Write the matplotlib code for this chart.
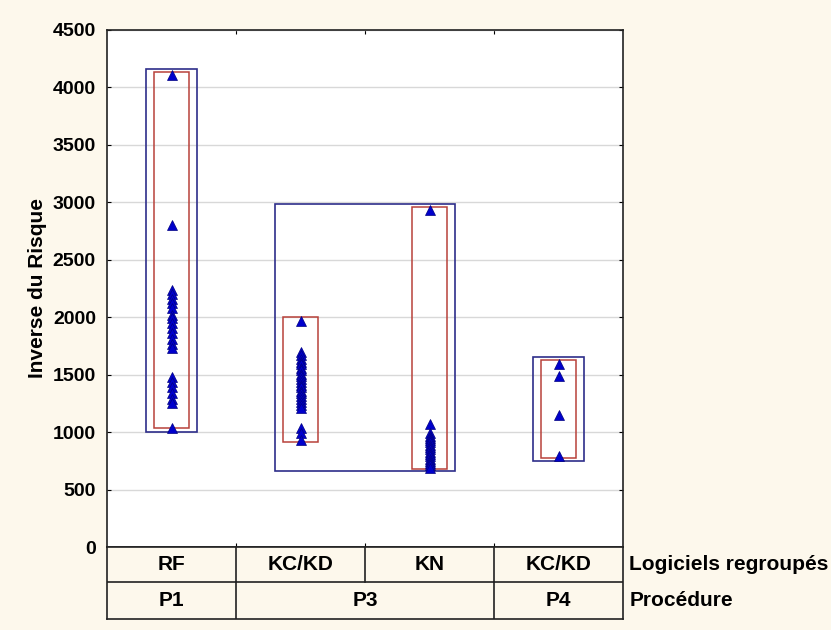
"""
Inverse du risque par logiciel regroupé et procédure (range plot).
"""
import matplotlib
matplotlib.use('Agg')
import matplotlib.pyplot as plt
from matplotlib.patches import Rectangle

plt.rcParams.update({
    'font.family': ['Liberation Sans', 'DejaVu Sans'],
    'font.size': 14,
    'font.weight': 'bold',
})

# categories (x order) and their groups
logiciels = ['RF', 'KC/KD', 'KN', 'KC/KD']
procedures = ['P1', 'P3', 'P4']
proc_span = [(0, 0), (1, 2), (3, 3)]      # first/last software column of each procedure

# points per software column
pts_rf = [4110, 2800, 2240, 2200, 2160, 2120, 2080, 2020, 1990, 1950, 1910,
          1860, 1810, 1770, 1730, 1480, 1440, 1390, 1340, 1290, 1250, 1040]
pts_kckd_p3 = [1970, 1700, 1670, 1640, 1610, 1590, 1560, 1540, 1510, 1490,
               1460, 1440, 1410, 1390, 1360, 1340, 1310, 1290, 1260, 1240,
               1210, 1040, 990, 930]
pts_kn = [2930, 1070, 990, 970, 950, 930, 910, 890, 870, 850, 830, 810, 790,
          770, 750, 730, 710, 690]
pts_kckd_p4 = [1590, 1490, 1150, 790]
points = [pts_rf, pts_kckd_p3, pts_kn, pts_kckd_p4]

# range boxes
soft_lo = [1033, 917, 682, 772]
soft_hi = [4137, 2004, 2962, 1628]
proc_lo = [1004, 661, 751]
proc_hi = [4160, 2985, 1651]

yticks = list(range(0, 4501, 500))

BG = '#FDF8EC'
BLUE_BOX = '#2E2E8A'
RED_BOX = '#B8413A'
MARK = '#0000CC'
FS = 14

fig = plt.figure(figsize=(8.31, 6.30), dpi=100, facecolor=BG)
ax = fig.add_axes([107 / 831, 1 - 547 / 630, 516 / 831, 517 / 630])
ax.set_facecolor('white')

ax.set_xlim(-0.5, 3.5)
ax.set_ylim(0, 4500)
ax.set_yticks(yticks)
ax.set_xticks([0.5, 1.5, 2.5])
ax.tick_params(axis='y', direction='in', length=3, left=True, right=True,
               labelsize=FS, pad=8)
ax.tick_params(axis='x', direction='in', length=3, top=True, bottom=True,
               labelbottom=False)
for lab in ax.get_yticklabels():
    lab.set_fontweight('bold')
ax.grid(axis='y', color='#D8D8D8', linewidth=1)
ax.set_axisbelow(True)
for s in ax.spines.values():
    s.set_linewidth(1.2)
    s.set_color('#222222')

ax.set_ylabel('Inverse du Risque', fontsize=FS + 1, fontweight='bold', labelpad=4)

# procedure boxes (blue)
for (a, b), lo, hi in zip(proc_span, proc_lo, proc_hi):
    ax.add_patch(Rectangle((a - 0.2, lo), (b - a) + 0.4, hi - lo, fill=False,
                           edgecolor=BLUE_BOX, linewidth=1.2, zorder=3))

# software boxes (red) and points
for i, (pts, lo, hi) in enumerate(zip(points, soft_lo, soft_hi)):
    ax.add_patch(Rectangle((i - 0.135, lo), 0.27, hi - lo, fill=False,
                           edgecolor=RED_BOX, linewidth=1.1, zorder=3))
    ax.plot([i] * len(pts), pts, linestyle='none', marker='^', markersize=6.5,
            color=MARK, markeredgecolor='#000080', markeredgewidth=0.5, zorder=4)

# category table below the plot
tab = fig.add_axes([107 / 831, 1 - 619 / 630, 516 / 831, 72 / 630])
tab.set_xlim(-0.5, 3.5)
tab.set_ylim(0, 2)
tab.set_facecolor(BG)
tab.set_xticks([])
tab.set_yticks([])
for s in tab.spines.values():
    s.set_linewidth(1.2)
    s.set_color('#222222')
tab.axhline(1.03, color='#222222', linewidth=1.2)
for x in [0.5, 1.5, 2.5]:
    tab.plot([x, x], [1.03, 2], color='#222222', linewidth=1.2)
for (a, b) in proc_span[1:]:
    tab.plot([a - 0.5, a - 0.5], [0, 1.03], color='#222222', linewidth=1.2)

for i, name in enumerate(logiciels):
    tab.text(i, 1.5, name, ha='center', va='center', fontsize=FS + 1,
             fontweight='bold')
for (a, b), name in zip(proc_span, procedures):
    tab.text((a + b) / 2, 0.5, name, ha='center', va='center', fontsize=FS + 1,
             fontweight='bold')
tab.text(3.55, 1.5, 'Logiciels regroupés', ha='left', va='center',
         fontsize=FS + 1, fontweight='bold')
tab.text(3.55, 0.5, 'Procédure', ha='left', va='center', fontsize=FS + 1,
         fontweight='bold')

fig.savefig('out.png', dpi=100, facecolor=BG)
